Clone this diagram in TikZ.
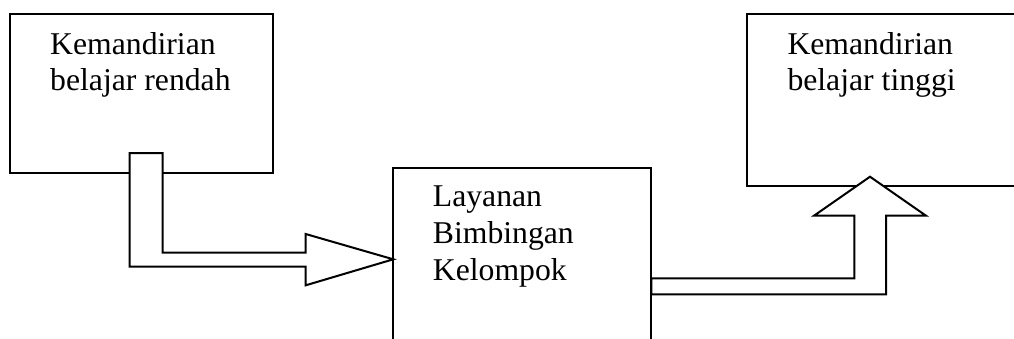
\documentclass[tikz,border=0pt]{standalone}
\usepackage{fontspec}
\setmainfont{Liberation Serif}
\begin{document}
\begin{tikzpicture}[x=1pt,y=-1pt,
  box/.style={draw=black,line width=2pt,fill=none},
  blockarrow/.style={draw=black,line width=2pt,fill=white,line join=miter},
  lbl/.style={anchor=base west,inner sep=0pt,align=left,
    font=\fontsize{31.7pt}{36.7pt}\selectfont}]
\useasboundingbox (0,0) rectangle (1014,338);
\clip (0,0) rectangle (1014,338);
% boxes
\draw[box] (10,14) rectangle (273,172.5);
\draw[box] (393.3,168.3) rectangle (651.3,360);
\draw[box] (747.3,14) rectangle (1030,185.7);
% named anchor points
\coordinate (a1s) at (129.5,153);
\coordinate (a1t) at (393.3,259.3);
\coordinate (a2s) at (651.3,278.3);
\coordinate (a2t) at (870,176.7);
% block arrow 1
\draw[blockarrow] (a1s) -- (162.7,153) -- (162.7,252.7) -- (305.7,252.7)
  -- (305.7,234) -- (a1t) -- (305.7,285.3) -- (305.7,266.7)
  -- (129.5,266.7) -- cycle;
% block arrow 2
\draw[blockarrow] (a2s) -- (854.3,278.3) -- (854.3,215.7) -- (814,215.7)
  -- (a2t) -- (926,215.7) -- (886,215.7) -- (886,294.3)
  -- (651.3,294.3) -- cycle;
% texts (base anchor = last line baseline)
\node[lbl] (t1) at (50,90.7) {Kemandirian\\belajar rendah};
\node[lbl] (t2) at (432.7,280) {Layanan\\Bimbingan\\Kelompok};
\node[lbl] (t3) at (787.3,90.7) {Kemandirian\\belajar tinggi};
\end{tikzpicture}
\end{document}
